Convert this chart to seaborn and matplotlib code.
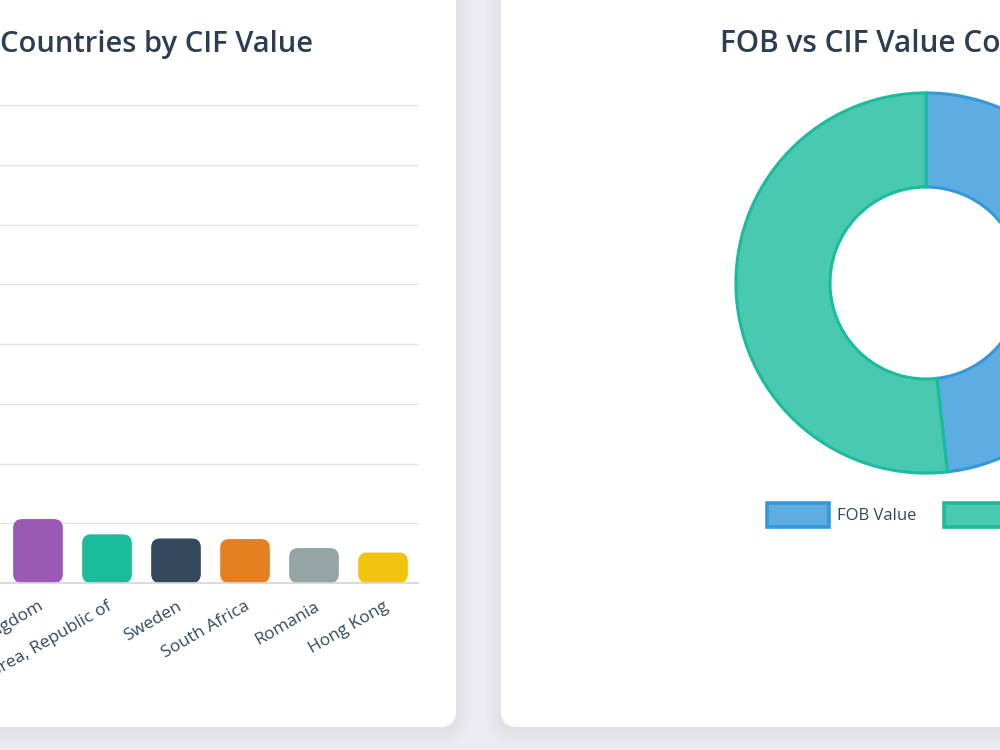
import numpy as np
import pandas as pd
import matplotlib
matplotlib.use("Agg")
import matplotlib.pyplot as plt
import seaborn as sns
from matplotlib.patches import FancyBboxPatch, Patch

# data (the first four bars sit off the left edge of the screenshot)
countries = ['United States', 'China', 'Germany', 'Japan', 'United Kingdom',
             'Korea, Republic of', 'Sweden', 'South Africa', 'Romania', 'Hong Kong']
cif_values = [15100000, 5800000, 3900000, 2700000, 2140000,
              1630000, 1490000, 1470000, 1170000, 1020000]
bar_colors = ['#3498db', '#e74c3c', '#2ecc71', '#f39c12', '#9b59b6',
              '#1abc9c', '#34495e', '#e67e22', '#95a5a6', '#f1c40f']

pie_labels = ['FOB Value', 'CIF Value']
pie_values = [48.2, 51.8]
pie_fill = ['#5dace2', '#48c9b0']
pie_edge = ['#3498db', '#1abc9c']

sns.set_theme(style='white')
plt.rcParams['font.family'] = ['Open Sans', 'DejaVu Sans']

W, H = 1000, 750
fig = plt.figure(figsize=(10, 7.5), dpi=100)
fig.patch.set_facecolor('#ecebf1')

# background layer in pixel coordinates: cards + titles
bg = fig.add_axes([0, 0, 1, 1], zorder=0)
bg.set_xlim(0, W)
bg.set_ylim(H, 0)
bg.axis('off')

def card(x0, y0, x1, y1):
    for i in range(10, 0, -1):
        s = FancyBboxPatch((x0 - i * 1.5, y0 - i * 1.5 + 4), x1 - x0 + i * 3, y1 - y0 + i * 3,
                           boxstyle='round,pad=0,rounding_size=%d' % (16 + i * 1.5),
                           fc='#9896b4', ec='none', alpha=0.007)
        bg.add_patch(s)
    bg.add_patch(FancyBboxPatch((x0, y0), x1 - x0, y1 - y0,
                                boxstyle='round,pad=0,rounding_size=16',
                                fc='white', ec='none'))

card(-400, -60, 456, 727)
card(501, -60, 1150, 727)

bg.text(313, 52, 'Top 10 Countries by CIF Value', ha='right', va='baseline',
        fontsize=21, fontweight='semibold', color='#2c3e50')
bg.text(720, 52, 'FOB vs CIF Value Comparison', ha='left', va='baseline',
        fontsize=21.4, fontweight='semibold', color='#2c3e50')

# bar chart (plot area runs off the left edge)
ax = fig.add_axes([-272.5 / W, (H - 583) / H, 690 / W, 478 / H], zorder=1)
ax.patch.set_alpha(0)
df = pd.DataFrame({'country': countries, 'cif': cif_values})
sns.barplot(data=df, x='country', y='cif', hue='country', palette=bar_colors,
            legend=False, width=0.72, saturation=1, ax=ax)
ax.set_xlim(-0.5, 9.5)
ax.set_ylim(0, 16000000)
ax.set_yticks(np.arange(0, 16000001, 2000000))
ax.yaxis.grid(True, color='#e3e3e3', lw=1)
ax.set_axisbelow(True)
for s in ['top', 'right', 'left']:
    ax.spines[s].set_visible(False)
ax.spines['bottom'].set_color('#d6d6d6')
ax.set_xlabel('')
ax.set_ylabel('')
ax.tick_params(axis='x', length=0, pad=11, labelsize=12.5, labelcolor='#34495e')
plt.setp(ax.get_xticklabels(), rotation=30, ha='right', rotation_mode='anchor')

# swap square bars for rounded ones
p0 = ax.transData.transform((0, 0))
p1 = ax.transData.transform((1, 1))
xpp = 1 / (p1[0] - p0[0])
ypp = 1 / (p1[1] - p0[1])
for p in list(ax.patches):
    rb = FancyBboxPatch((p.get_x(), p.get_y()), p.get_width(), p.get_height(),
                        boxstyle='round,pad=0,rounding_size=%f' % (9 * xpp),
                        mutation_aspect=ypp / xpp,
                        fc=p.get_facecolor(), ec='none')
    p.remove()
    ax.add_patch(rb)

# donut
R = 192
cx, cy = 926, 283
ax2 = fig.add_axes([(cx - R) / W, (H - cy - R) / H, 2 * R / W, 2 * R / H], zorder=1)
wedges, _ = ax2.pie(pie_values, colors=pie_fill, startangle=90, counterclock=False,
                    radius=0.99, wedgeprops=dict(width=0.49, linewidth=2.2))
for w, ec in zip(wedges, pie_edge):
    w.set_edgecolor(ec)
    w.set_clip_on(False)
ax2.set_xlim(-1, 1)
ax2.set_ylim(-1, 1)
ax2.axis('off')

handles = [Patch(fc=f, ec=e, lw=2.6) for f, e in zip(pie_fill, pie_edge)]
fig.legend(handles, pie_labels, loc='center', bbox_to_anchor=(cx / W, (H - 515) / H),
           ncol=2, frameon=False, fontsize=12, labelcolor='#34495e',
           handlelength=3.7, handleheight=1.75, handletextpad=0.45, columnspacing=1.7)

fig.savefig('out.png', dpi=100, facecolor=fig.get_facecolor())
